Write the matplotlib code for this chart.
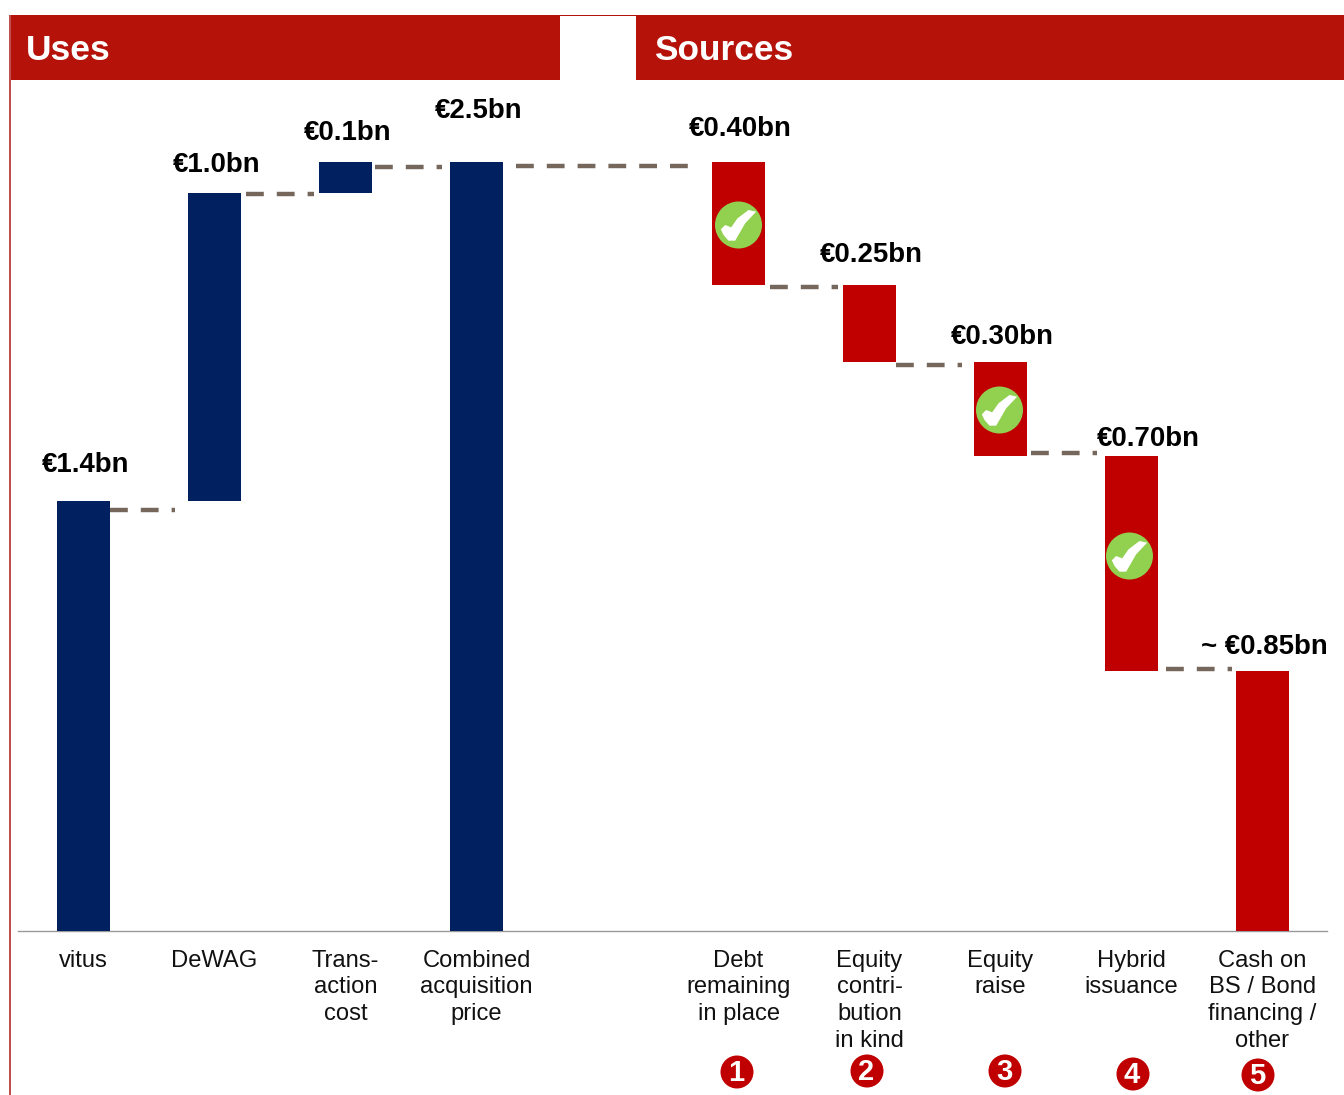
import matplotlib
matplotlib.use("Agg")
import matplotlib.pyplot as plt
from matplotlib.patches import Rectangle, Circle, Polygon
import numpy as np

plt.rcParams['font.family'] = ['Liberation Sans', 'DejaVu Sans']

# ---- data ----
use_labels = ["vitus", "DeWAG", "Trans-\naction\ncost", "Combined\nacquisition\nprice"]
use_heights = [1.398, 1.002, 0.1, 2.5]
use_bottoms = [0.0, 1.398, 2.4, 0.0]
use_value_text = ["€1.4bn", "€1.0bn", "€0.1bn", "€2.5bn"]

source_labels = ["Debt\nremaining\nin place", "Equity\ncontri-\nbution\nin kind", "Equity\nraise",
                 "Hybrid\nissuance", "Cash on\nBS / Bond\nfinancing /\nother"]
source_heights = [0.40, 0.25, 0.305, 0.70, 0.845]
source_value_text = ["€0.40bn", "€0.25bn", "€0.30bn", "€0.70bn", "~ €0.85bn"]
source_checked = [True, False, True, True, False]

connector_levels = [1.369, 2.396, 2.483, 2.488, 2.093, 1.841, 1.555, 0.853]

# ---- layout (pixels of the 1344x1095 canvas) ----
W, H = 1344, 1095
BASE_Y, Y_SCALE = 931, 307.6
X0, X_STEP = 83.5, 131.0
AX_L, AX_R, AX_T = 18, 1327, 80
use_pos = [0, 1, 2, 3]
source_pos = [5, 6, 7, 8, 9]
BAR_W = 53 / X_STEP
connector_spans = [(110, 175), (246, 314), (375, 442), (516, 690),
                   (770, 838), (896, 962), (1031, 1097), (1166, 1232)]
use_label_xy = [(85.5, 465.5), (216.5, 164.5), (347.5, 132.5), (478.5, 110.5)]
source_label_xy = [(740.5, 128.5), (871.5, 255.5), (1002.5, 336.5), (1148.5, 438.5), (1264, 647.5)]
check_xy = [(738.5, 225), (None, None), (999.5, 410), (1129.5, 556), (None, None)]
number_xy = [(737, 1072), (867, 1071), (1005, 1071), (1133, 1074), (1258, 1075)]

NAVY, RED, HEAD = "#002060", "#C00000", "#B5120A"
DASH, GREEN = "#75675C", "#92D050"

fig = plt.figure(figsize=(W / 100, H / 100), dpi=100, facecolor="white")
ax = fig.add_axes([AX_L / W, 1 - BASE_Y / H, (AX_R - AX_L) / W, (BASE_Y - AX_T) / H])
ax.set_xlim((AX_L - X0) / X_STEP, (AX_R - X0) / X_STEP)
ax.set_ylim(0, (BASE_Y - AX_T) / Y_SCALE)

ax.bar(use_pos, use_heights, BAR_W, bottom=use_bottoms, color=NAVY, linewidth=0, zorder=3)
src_tops = 2.5 - np.cumsum([0] + source_heights[:-1])
ax.bar(source_pos, source_heights, BAR_W, bottom=src_tops - np.array(source_heights),
       color=RED, linewidth=0, zorder=3)

for (x0, x1), lvl in zip(connector_spans, connector_levels):
    ax.plot([(x0 - X0) / X_STEP, (x1 - X0) / X_STEP], [lvl, lvl], color=DASH, lw=3.2,
            dashes=(17.8 * .72 / 3.2, 13 * .72 / 3.2), dash_capstyle="butt", zorder=2)

for s in ("top", "left", "right"):
    ax.spines[s].set_visible(False)
ax.spines["bottom"].set_color("#999999")
ax.spines["bottom"].set_linewidth(1.0)
ax.set_yticks([])
ax.set_xticks(use_pos + source_pos)
ax.set_xticklabels(use_labels + source_labels, fontsize=17.1, color="#111111",
                   linespacing=1.275, va="top")
ax.tick_params(axis="x", length=0, pad=13.5)

# overlay in canvas pixels for the slide furniture
ov = fig.add_axes([0, 0, 1, 1], zorder=5)
ov.set_xlim(0, W)
ov.set_ylim(H, 0)
ov.axis("off")
ov.patch.set_alpha(0)

ov.add_patch(Rectangle((9, 15), 551, 64.5, fc=HEAD, ec="none"))
ov.add_patch(Rectangle((636, 15), W - 636, 64.5, fc=HEAD, ec="none"))
ov.add_patch(Rectangle((560, 14.5), 76, 1.8, fc=HEAD, ec="none"))
ov.add_patch(Rectangle((8.6, 15), 2, H - 15, fc="#C0504D", ec="none"))
ov.text(26, 51, "Uses", color="white", fontsize=25.5, fontweight="bold", va="center", ha="left")
ov.text(654, 51, "Sources", color="white", fontsize=25.4, fontweight="bold", va="center", ha="left")

for txt, (x, y) in zip(use_value_text + source_value_text, use_label_xy + source_label_xy):
    ov.text(x, y, txt, color="black", fontsize=19.9, fontweight="bold", ha="center", va="center")

check_shape = np.array([(122, 268), (135, 255), (153, 262), (172, 235), (205, 210), (228, 215),
                        (195, 250), (165, 302), (145, 302), (130, 285)], float)
check_shape = (check_shape - (175, 255)) / 3
for flag, (cx, cy) in zip(source_checked, check_xy):
    if flag:
        ov.add_patch(Circle((cx, cy), 23.5, fc=GREEN, ec="none"))
        ov.add_patch(Polygon(check_shape + (cx, cy), closed=True, fc="white", ec="none"))

for i, (cx, cy) in enumerate(number_xy, start=1):
    ov.add_patch(Circle((cx, cy), 16.5, fc=RED, ec="none"))
    ov.text(cx - 1, cy + 1, str(i), color="white", fontsize=21, fontweight="bold", ha="center", va="center")

fig.savefig("out.png", dpi=100, facecolor="white")
